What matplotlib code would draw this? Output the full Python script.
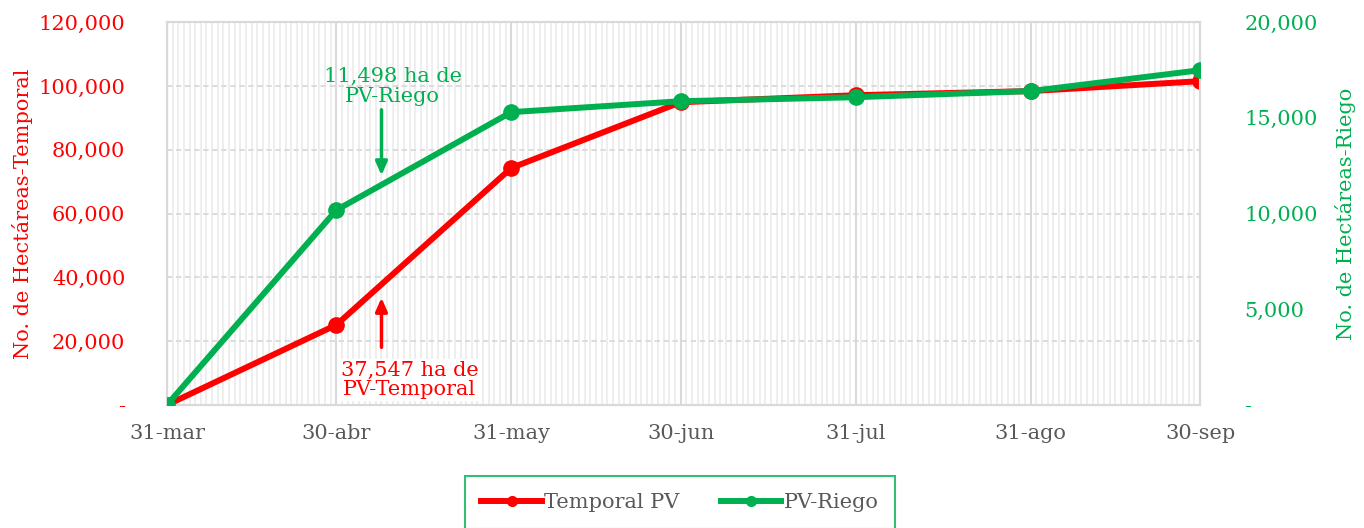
import matplotlib.pyplot as plt
import matplotlib.dates as mdates
import numpy as np
import datetime as dt

# fechas de corte (fin de mes)
fechas = ['2023-03-31', '2023-04-30', '2023-05-31', '2023-06-30',
          '2023-07-31', '2023-08-31', '2023-09-30']
etiquetas = ['31-mar', '30-abr', '31-may', '30-jun', '31-jul', '31-ago', '30-sep']

# hectareas acumuladas
temporal = [0, 25100, 74300, 94900, 97100, 98400, 101500]
riego = [0, 10180, 15300, 15870, 16080, 16400, 17490]

ROJO = '#FF0000'
VERDE = '#00B050'
GRIS = '#595959'

plt.rcParams['font.family'] = ['DejaVu Serif']

x = [dt.datetime.strptime(f, '%Y-%m-%d') for f in fechas]

fig = plt.figure(figsize=(13.64, 5.28), dpi=100)
ax = fig.add_axes([0.1224, 0.233, 0.7574, 0.725])
ax2 = ax.twinx()

# lineas
l1, = ax.plot(x, temporal, color=ROJO, lw=4.3, marker='o', ms=11,
              label='Temporal PV', zorder=3)
l2, = ax2.plot(x, riego, color=VERDE, lw=4.3, marker='o', ms=11,
               label='PV-Riego', zorder=3)

ax.set_xlim(x[0], x[-1])
ax.set_ylim(0, 120000)
ax2.set_ylim(0, 20000)

# ejes
ax.set_xticks(x)
ax.set_xticklabels(etiquetas, color=GRIS, fontsize=15)
ax.xaxis.set_minor_locator(mdates.DayLocator())
ax.tick_params(axis='x', which='both', length=0, pad=14)

yt = np.arange(0, 120001, 20000)
ax.set_yticks(yt)
ax.set_yticklabels(['-'] + ['{:,}'.format(v) for v in yt[1:]], color=ROJO, fontsize=15)
ax.tick_params(axis='y', length=0, pad=30)

yt2 = np.arange(0, 20001, 5000)
ax2.set_yticks(yt2)
ax2.set_yticklabels(['-'] + ['{:,}'.format(v) for v in yt2[1:]], color=VERDE, fontsize=15)
ax2.tick_params(axis='y', length=0, pad=32)

ax.set_ylabel('No. de Hectáreas-Temporal', color=ROJO, fontsize=15, labelpad=4)
ax2.set_ylabel('No. de Hectáreas-Riego', color=VERDE, fontsize=15, labelpad=12)

# rejilla
ax.grid(axis='x', which='minor', color='#EBEBEB', lw=1.2)
ax.grid(axis='x', which='major', color='#D9D9D9', lw=1.5)
ax.grid(axis='y', which='major', color='#D9D9D9', lw=1.3, ls=(0, (3, 2)))
ax.set_axisbelow(True)
for a in (ax, ax2):
    for s in a.spines.values():
        s.set_color('#D9D9D9')
        s.set_linewidth(1.5)

# anotaciones
flecha = dt.datetime(2023, 5, 8)
ax.annotate('', xy=(flecha, 71100), xytext=(flecha, 93400),
            arrowprops=dict(arrowstyle='-|>,head_width=0.35,head_length=0.8',
                            color=VERDE, lw=2.5))
ax.text(dt.datetime(2023, 5, 10), 99900, '11,498 ha de\nPV-Riego', color=VERDE,
        fontsize=15, ha='center', va='center', linespacing=1.05)

ax.annotate('', xy=(flecha, 34500), xytext=(flecha, 17200),
            arrowprops=dict(arrowstyle='-|>,head_width=0.35,head_length=0.8',
                            color=ROJO, lw=2.5))
ax.text(dt.datetime(2023, 5, 13), 7800, '37,547 ha de\nPV-Temporal', color=ROJO,
        fontsize=15, ha='center', va='center', linespacing=1.05,
        bbox=dict(facecolor='white', edgecolor='none', pad=1))

# leyenda
h1, = ax.plot([], [], color=ROJO, lw=4.3, marker='o', ms=7)
h2, = ax.plot([], [], color=VERDE, lw=4.3, marker='o', ms=7)
leg = fig.legend([h1, h2], ['Temporal PV', 'PV-Riego'], loc='upper center',
                 bbox_to_anchor=(0.4985, 0.098), ncol=2, fancybox=False,
                 edgecolor=VERDE, fontsize=15, handlelength=2.9,
                 columnspacing=2.0, borderpad=0.8, handletextpad=0.1,
                 borderaxespad=0)
leg.get_frame().set_linewidth(1.5)
for t in leg.get_texts():
    t.set_color(GRIS)

fig.savefig('out.png', dpi=100)
